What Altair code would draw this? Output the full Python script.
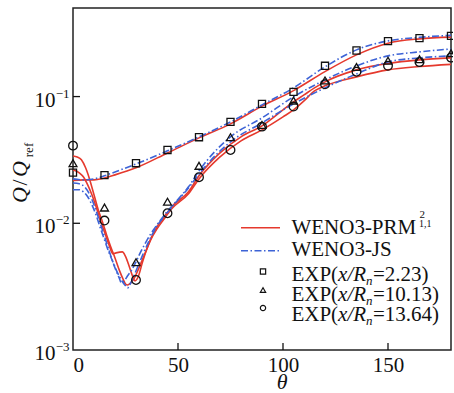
import altair as alt
import pandas as pd

SERIF = "Liberation Serif"
RED = "#e5392d"
BLUE = "#3d63d6"
INK = "#111111"

# ---------------- WENO3-PRM (solid red) ----------------
prm_223_theta = [0, 5, 10, 15, 20, 30, 45, 60, 75, 90, 105, 120, 135, 150, 165, 180]
prm_223_q = [0.0218, 0.0220, 0.0220, 0.0228, 0.0241, 0.0274, 0.0359, 0.0472, 0.0609,
             0.0840, 0.1115, 0.1575, 0.2134, 0.2638, 0.2853, 0.2943]

prm_1013_theta = [0, 3, 5, 7, 9, 11, 13, 15, 17, 19, 20.5, 23.5, 25, 27, 28.5, 29.5, 31, 33,
                  35, 37, 40, 43, 47, 55, 60, 70, 80, 90, 100, 105, 110, 115, 120, 135, 150,
                  165, 180]
prm_1013_q = [0.0264, 0.0250, 0.0232, 0.0201, 0.0168, 0.0135, 0.0106, 0.00855, 0.00688,
              0.00574, 0.00584, 0.00595, 0.00548, 0.00445, 0.00377, 0.00351, 0.00377,
              0.00487, 0.00617, 0.00753, 0.00937, 0.0110, 0.0135, 0.0177, 0.0237, 0.0359,
              0.0481, 0.0587, 0.0785, 0.0908, 0.1031, 0.1171, 0.1306, 0.1624, 0.1828,
              0.1949, 0.2020]

prm_1364_theta = [0, 2, 4, 6, 8, 10, 12, 14, 16, 18, 20, 22, 24, 25, 26, 27.5, 29, 31, 33,
                  35, 37, 40, 43, 47, 55, 60, 70, 80, 90, 100, 105, 110, 115, 120, 135, 150,
                  165, 180]
prm_1364_q = [0.0340, 0.0334, 0.0317, 0.0274, 0.0220, 0.0168, 0.0128, 0.0103, 0.00810,
              0.00651, 0.00533, 0.00429, 0.00358, 0.00332, 0.00326, 0.00339, 0.00364,
              0.00429, 0.00514, 0.00617, 0.00740, 0.00903, 0.0106, 0.0130, 0.0171, 0.0224,
              0.0334, 0.0447, 0.0546, 0.0692, 0.0785, 0.0925, 0.1109, 0.1215, 0.1430,
              0.1624, 0.1725, 0.1795]

# ---------------- WENO3-JS (blue dash-dot) ----------------
js_223_theta = [0, 5, 10, 15, 20, 30, 45, 60, 75, 90, 105, 120, 135, 150, 165, 180]
js_223_q = [0.0224, 0.0220, 0.0224, 0.0237, 0.0254, 0.0294, 0.0373, 0.0481, 0.0631,
            0.0860, 0.1171, 0.1716, 0.2336, 0.2752, 0.2933, 0.3041]

js_1013_theta = [0, 3, 6, 8, 10, 12, 14, 16, 18, 20, 22, 23, 24, 26, 28, 30, 32, 34, 37,
                 40, 44, 48, 55, 60, 75, 90, 105, 120, 135, 150, 165, 180]
js_1013_q = [0.0208, 0.0205, 0.0190, 0.0168, 0.0140, 0.0112, 0.00887, 0.00700, 0.00553,
             0.00445, 0.00371, 0.00339, 0.00345, 0.00385, 0.00429, 0.00496, 0.00584,
             0.00675, 0.00825, 0.00971, 0.0119, 0.0142, 0.0194, 0.0259, 0.0481, 0.0679,
             0.0995, 0.1354, 0.1747, 0.2096, 0.2253, 0.2375]

js_1364_theta = [0, 3, 5, 7, 9, 11, 13, 15, 17, 19, 21, 23, 25, 26, 27, 29, 31, 33, 36,
                 40, 44, 48, 55, 60, 75, 90, 105, 120, 135, 150, 165, 180]
js_1364_q = [0.0184, 0.0184, 0.0177, 0.0162, 0.0140, 0.0116, 0.00920, 0.00740, 0.00595,
             0.00496, 0.00413, 0.00358, 0.00321, 0.00309, 0.00326, 0.00385, 0.00461,
             0.00553, 0.00713, 0.00954, 0.0116, 0.0140, 0.0190, 0.0245, 0.0439, 0.0620,
             0.0876, 0.1171, 0.1510, 0.1879, 0.2020, 0.2096]

# ---------------- Experiment ----------------
exp_theta = [0, 15, 30, 45, 60, 75, 90, 105, 120, 135, 150, 165, 180]
exp_223_q = [0.0251, 0.0240, 0.0298, 0.0379, 0.0478, 0.0631, 0.0876, 0.109, 0.175,
             0.231, 0.274, 0.289, 0.301]
exp_1013_q = [0.0298, 0.0133, 0.00493, 0.0148, 0.0284, 0.0478, 0.0598, 0.0930, 0.134,
              0.171, 0.192, 0.197, 0.220]
exp_1364_q = [0.0410, 0.0105, 0.00357, 0.0120, 0.0231, 0.0379, 0.0579, 0.0834, 0.125,
              0.157, 0.175, 0.187, 0.203]

stations = ["2.23", "10.13", "13.64"]
x_ticks = [0, 50, 100, 150]
y_ticks = [0.001, 0.01, 0.1]
y_exponents = ["\u22123", "\u22122", "\u22121"]


def frame(theta, q, station):
    return pd.DataFrame({"theta": theta, "q": q, "station": station})


prm = pd.concat([frame(prm_223_theta, prm_223_q, stations[0]),
                 frame(prm_1013_theta, prm_1013_q, stations[1]),
                 frame(prm_1364_theta, prm_1364_q, stations[2])])
js = pd.concat([frame(js_223_theta, js_223_q, stations[0]),
                frame(js_1013_theta, js_1013_q, stations[1]),
                frame(js_1364_theta, js_1364_q, stations[2])])
exp = pd.concat([frame(exp_theta, exp_223_q, stations[0]),
                 frame(exp_theta, exp_1013_q, stations[1]),
                 frame(exp_theta, exp_1364_q, stations[2])])

W, H = 378, 342
xs = alt.Scale(domain=[0, 180], nice=False, zero=False)
ys = alt.Scale(type="log", domain=[0.001, 0.5], nice=False)

x_axis = alt.Axis(values=x_ticks, domain=False, grid=False, tickSize=0,
                  labelFont=SERIF, labelFontSize=21, labelColor=INK,
                  labelBaseline="alphabetic", labelPadding=21.5,
                  title="\u03b8", titleFont=SERIF, titleFontSize=22,
                  titleFontStyle="italic", titleFontWeight="normal", titleColor=INK,
                  titleX=208.7, titleY=38, titleBaseline="alphabetic", titleAlign="center")

X = alt.X("theta:Q", scale=xs, axis=x_axis)
Y = alt.Y("q:Q", scale=ys, axis=None)

prm_lines = alt.Chart(prm).mark_line(
    color=RED, strokeWidth=1.6, interpolate="monotone", clip=True
).encode(x=X, y=Y, detail="station:N")

js_lines = alt.Chart(js).mark_line(
    color=BLUE, strokeWidth=1.6, strokeDash=[7, 2.5, 1.5, 2.5],
    interpolate="monotone", clip=True
).encode(x=X, y=Y, detail="station:N")

points = alt.Chart(exp).mark_point(
    filled=False, stroke=INK, strokeWidth=1.3, opacity=1
).encode(
    x=X, y=Y,
    shape=alt.Shape("station:N", scale=alt.Scale(domain=stations,
                    range=["square", "triangle-up", "circle"]), legend=None),
    size=alt.Size("station:N", scale=alt.Scale(domain=stations, range=[50, 75, 72]),
                  legend=None),
)

# inward tick marks
x_tick_marks = alt.Chart(pd.DataFrame({"theta": x_ticks[1:]})).mark_rule(
    color=INK, strokeWidth=1.3
).encode(x=X, y=alt.value(H), y2=alt.value(H - 7))

y_tick_marks = alt.Chart(pd.DataFrame({"q": y_ticks[1:]})).mark_rule(
    color=INK, strokeWidth=1.3
).encode(y=Y, x=alt.value(0), x2=alt.value(7))

# y tick labels as 10 with a raised exponent
ylab = pd.DataFrame({"q": y_ticks, "exp": y_exponents})
y_base = alt.Chart(ylab).mark_text(
    text="10", font=SERIF, fontSize=21, color=INK, align="right",
    baseline="alphabetic", dy=10
).encode(y=Y, x=alt.value(-17.5))
y_sup = alt.Chart(ylab).mark_text(
    font=SERIF, fontSize=13, color=INK, align="left", baseline="alphabetic", dy=1
).encode(y=Y, x=alt.value(-17.3), text="exp:N")

one = pd.DataFrame({"k": [0]})


def txt(s, x, y, size=21, style="normal", align="left", angle=0):
    return alt.Chart(one).mark_text(
        text=s, font=SERIF, fontSize=size, fontStyle=style, align=align,
        baseline="alphabetic", color=INK, angle=angle
    ).encode(x=alt.value(x), y=alt.value(y))


# y-axis title, Q / Q_ref, set vertically
y_title = [
    txt("Q", -46.3, 187, size=22, style="italic", align="center", angle=270),
    txt("/", -46.3, 174.5, size=22, align="center", angle=270),
    txt("Q", -46.3, 161, size=22, style="italic", align="center", angle=270),
    txt("ref", -40.5, 142, size=13, align="center", angle=270),
]

# legend
LX = 218.4
legend = [
    alt.Chart(one).mark_rule(color=RED, strokeWidth=1.6).encode(
        x=alt.value(168), x2=alt.value(207), y=alt.value(219.7)),
    txt("WENO3-PRM", LX, 225.5),
    txt("2", 346.5, 210.3, size=11),
    txt("1,1", 346, 219, size=10),
    alt.Chart(one).mark_rule(color=BLUE, strokeWidth=1.6,
                             strokeDash=[7, 2.5, 1.5, 2.5]).encode(
        x=alt.value(168), x2=alt.value(207), y=alt.value(242.7)),
    txt("WENO3-JS", LX, 247.7),
]
legend_shapes = ["square", "triangle-up", "circle"]
legend_marker_y = [263.5, 282, 300]
legend_text_y = [272.5, 292.5, 312.5]
for shape, my, ty, st in zip(legend_shapes, legend_marker_y, legend_text_y, stations):
    legend.append(alt.Chart(one).mark_point(
        shape=shape, size=28, filled=False, stroke=INK, strokeWidth=1.2, opacity=1
    ).encode(x=alt.value(190), y=alt.value(my)))
    legend.append(txt("EXP(", LX, ty))
    legend.append(txt("x/R", LX + 46.7, ty, style="italic"))
    legend.append(txt("n", LX + 74.7, ty + 4, size=13, style="italic"))
    legend.append(txt("=" + st + ")", LX + 81.5, ty))

chart = alt.layer(
    prm_lines, js_lines, points, x_tick_marks, y_tick_marks, y_base, y_sup,
    *y_title, *legend
).properties(
    width=W, height=H,
    autosize=alt.AutoSizeParams(type="none"),
    padding={"left": 73, "top": 8, "right": 2, "bottom": 43},
).configure_view(stroke="#222222", strokeWidth=1.5)

chart.save("out.html", embed_options={"renderer": "svg", "actions": False})
